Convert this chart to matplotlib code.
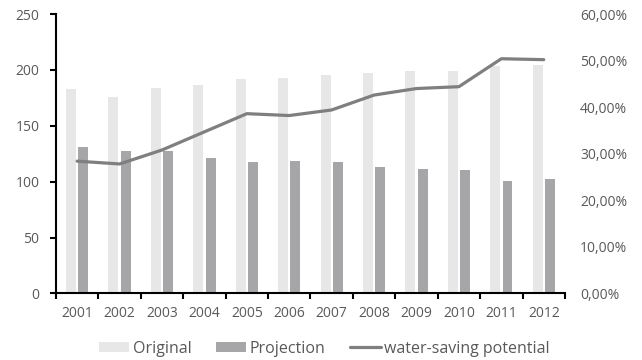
import matplotlib
matplotlib.use("Agg")
import matplotlib.pyplot as plt
import numpy as np
from matplotlib.ticker import FixedLocator, FuncFormatter

plt.rcParams['font.family'] = ['Open Sans', 'DejaVu Sans']

years = ["2001", "2002", "2003", "2004", "2005", "2006",
         "2007", "2008", "2009", "2010", "2011", "2012"]
original = [183, 176, 184, 186.5, 192, 192.5, 195, 197.5, 199, 199, 203.5, 204.5]
projection = [131, 127, 127, 121, 117.5, 118.5, 118, 113, 111, 110.5, 100.5, 102]
potential = [28.4, 27.8, 30.8, 34.7, 38.6, 38.2, 39.4, 42.6, 44.0, 44.4, 50.4, 50.2]

text_color = "#595959"
c_orig = "#E7E7E8"
c_proj = "#A6A6A8"
c_line = "#7F7F7F"

fig = plt.figure(figsize=(6.42, 3.6), dpi=100)
ax = fig.add_axes([0.0872, 0.185, 0.7928, 0.776])
ax2 = ax.twinx()

x = np.arange(len(years))
w = 0.235
off = 0.145
ax.bar(x - off, original, width=w, color=c_orig, label="Original", zorder=2)
ax.bar(x + off, projection, width=w, color=c_proj, label="Projection", zorder=2)
ax2.plot(x, potential, color=c_line, lw=2.3, solid_capstyle="round",
         label="water-saving potential", zorder=3)

ax.set_xlim(-0.5, len(years) - 0.5)
ax.set_ylim(0, 250)
ax.set_yticks(np.arange(0, 251, 50))
ax2.set_ylim(0, 60)
ax2.set_yticks(np.arange(0, 61, 10))
ax2.yaxis.set_major_formatter(FuncFormatter(lambda v, p: f"{v:.2f}%".replace(".", ",")))

# category labels centred, ticks on category boundaries
ax.set_xticks(x)
ax.set_xticklabels(years)
ax.tick_params(axis="x", which="major", length=0, pad=9, labelsize=10, labelcolor=text_color)
ax.xaxis.set_minor_locator(FixedLocator(np.arange(-0.5, len(years), 1.0)))
ax.tick_params(axis="x", which="minor", length=4, width=1.5, color="black", direction="out")
ax.tick_params(axis="y", length=4, width=1.5, color="black", labelsize=10,
               labelcolor=text_color, pad=8)
ax2.tick_params(axis="y", length=0, labelsize=10, labelcolor=text_color, pad=11)

for s in ["top", "right"]:
    ax.spines[s].set_visible(False)
for s in ["top", "right", "left", "bottom"]:
    ax2.spines[s].set_visible(False)
ax.spines["left"].set_linewidth(1.5)
ax.spines["bottom"].set_linewidth(1.5)

h1, l1 = ax.get_legend_handles_labels()
h2, l2 = ax2.get_legend_handles_labels()
leg = fig.legend(h1 + h2, l1 + l2, loc="center", bbox_to_anchor=(0.505, 0.031),
                 ncol=3, frameon=False, fontsize=11.5, handlelength=1.9, handleheight=0.6,
                 handletextpad=0.2, columnspacing=1.55, labelcolor=text_color)

fig.savefig("out.png", dpi=100)
